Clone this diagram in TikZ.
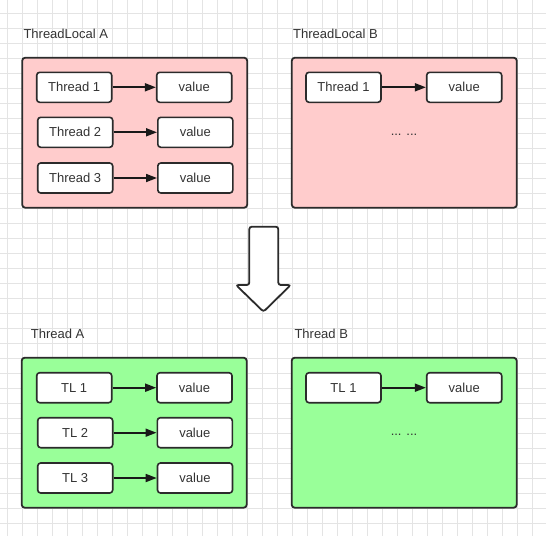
\documentclass[tikz,border=0pt]{standalone}
\usepackage{fontspec}
\setmainfont{Liberation Sans}
\usetikzlibrary{arrows.meta}
\definecolor{gridline}{HTML}{E4E4E4}
\definecolor{edge}{HTML}{2B2B2B}
\definecolor{txt}{HTML}{333333}
\definecolor{tlpink}{HTML}{FFCCCC}
\definecolor{thgreen}{HTML}{99FF99}
\tikzset{
  container/.style={draw=edge, line width=1.8pt, rounded corners=3pt,
    minimum width=225pt, minimum height=150pt, inner sep=0pt},
  cell/.style={draw=edge, line width=1.6pt, rounded corners=3pt, fill=white,
    minimum width=75pt, minimum height=30pt, inner sep=0pt,
    font=\fontsize{13}{15}\selectfont, text=txt},
  title/.style={anchor=base west, inner sep=0pt, font=\fontsize{13}{15}\selectfont, text=txt},
  etc/.style={anchor=base, inner sep=0pt, font=\fontsize{13}{15}\selectfont, text=txt},
  link/.style={draw=black!90, line width=1.7pt, -{Triangle[length=11pt,width=8pt]}},
}
\begin{document}
\begin{tikzpicture}[x=1pt,y=-1pt]
  \useasboundingbox (0,0) rectangle (546,536);
  \fill[white] (0,0) rectangle (546,536);
  % background grid
  \foreach \k in {0,...,35} \draw[gridline, line width=0.9pt] (7.7+15*\k,0) -- (7.7+15*\k,536);
  \foreach \k in {0,...,34} \draw[gridline, line width=0.9pt] (0,13.4+15*\k) -- (546,13.4+15*\k);

  % ThreadLocal A
  \node[title] (tA) at (23.3,38) {ThreadLocal A};
  \node[container, fill=tlpink] (boxTA) at (134.7,132.7) {};
  \node[cell] (tA1) at (74.2,87.3) {Thread 1};
  \node[cell] (tAv1) at (194.2,87.3) {value};
  \node[cell] (tA2) at (75.2,132.3) {Thread 2};
  \node[cell] (tAv2) at (195.3,132.3) {value};
  \node[cell] (tA3) at (75.2,178) {Thread 3};
  \node[cell] (tAv3) at (195.3,178) {value};
  \draw[link] (tA1) -- (tAv1);
  \draw[link] (tA2) -- (tAv2);
  \draw[link] (tA3) -- (tAv3);

  % ThreadLocal B
  \node[title] (tB) at (293,38) {ThreadLocal B};
  \node[container, fill=tlpink] (boxTB) at (404.3,132.7) {};
  \node[cell] (tB1) at (343.5,87.3) {Thread 1};
  \node[cell] (tBv1) at (464.2,87.3) {value};
  \draw[link] (tB1) -- (tBv1);
  \node[etc] (tBdots) at (404,135.3) {... ...};

  % big downward arrow
  \draw[edge, line width=1.8pt, fill=white, rounded corners=2.5pt]
    (249.3,226.7) -- (278.3,226.7) -- (278.3,285) -- (290.7,285)
    -- (263.5,311.7) -- (236,285) -- (249.3,285) -- cycle;

  % Thread A
  \node[title] (hA) at (30.7,338) {Thread A};
  \node[container, fill=thgreen] (boxHA) at (134.2,432.7) {};
  \node[cell] (hA1) at (74.2,387.7) {TL 1};
  \node[cell] (hAv1) at (194.5,387.7) {value};
  \node[cell] (hA2) at (75.2,432.7) {TL 2};
  \node[cell] (hAv2) at (194.8,432.7) {value};
  \node[cell] (hA3) at (75.2,478) {TL 3};
  \node[cell] (hAv3) at (195,478) {value};
  \draw[link] (hA1) -- (hAv1);
  \draw[link] (hA2) -- (hAv2);
  \draw[link] (hA3) -- (hAv3);

  % Thread B
  \node[title] (hB) at (294.3,338) {Thread B};
  \node[container, fill=thgreen] (boxHB) at (404.2,432.7) {};
  \node[cell] (hB1) at (343.5,387.7) {TL 1};
  \node[cell] (hBv1) at (464.2,387.7) {value};
  \draw[link] (hB1) -- (hBv1);
  \node[etc] (hBdots) at (404,435.3) {... ...};
\end{tikzpicture}
\end{document}
